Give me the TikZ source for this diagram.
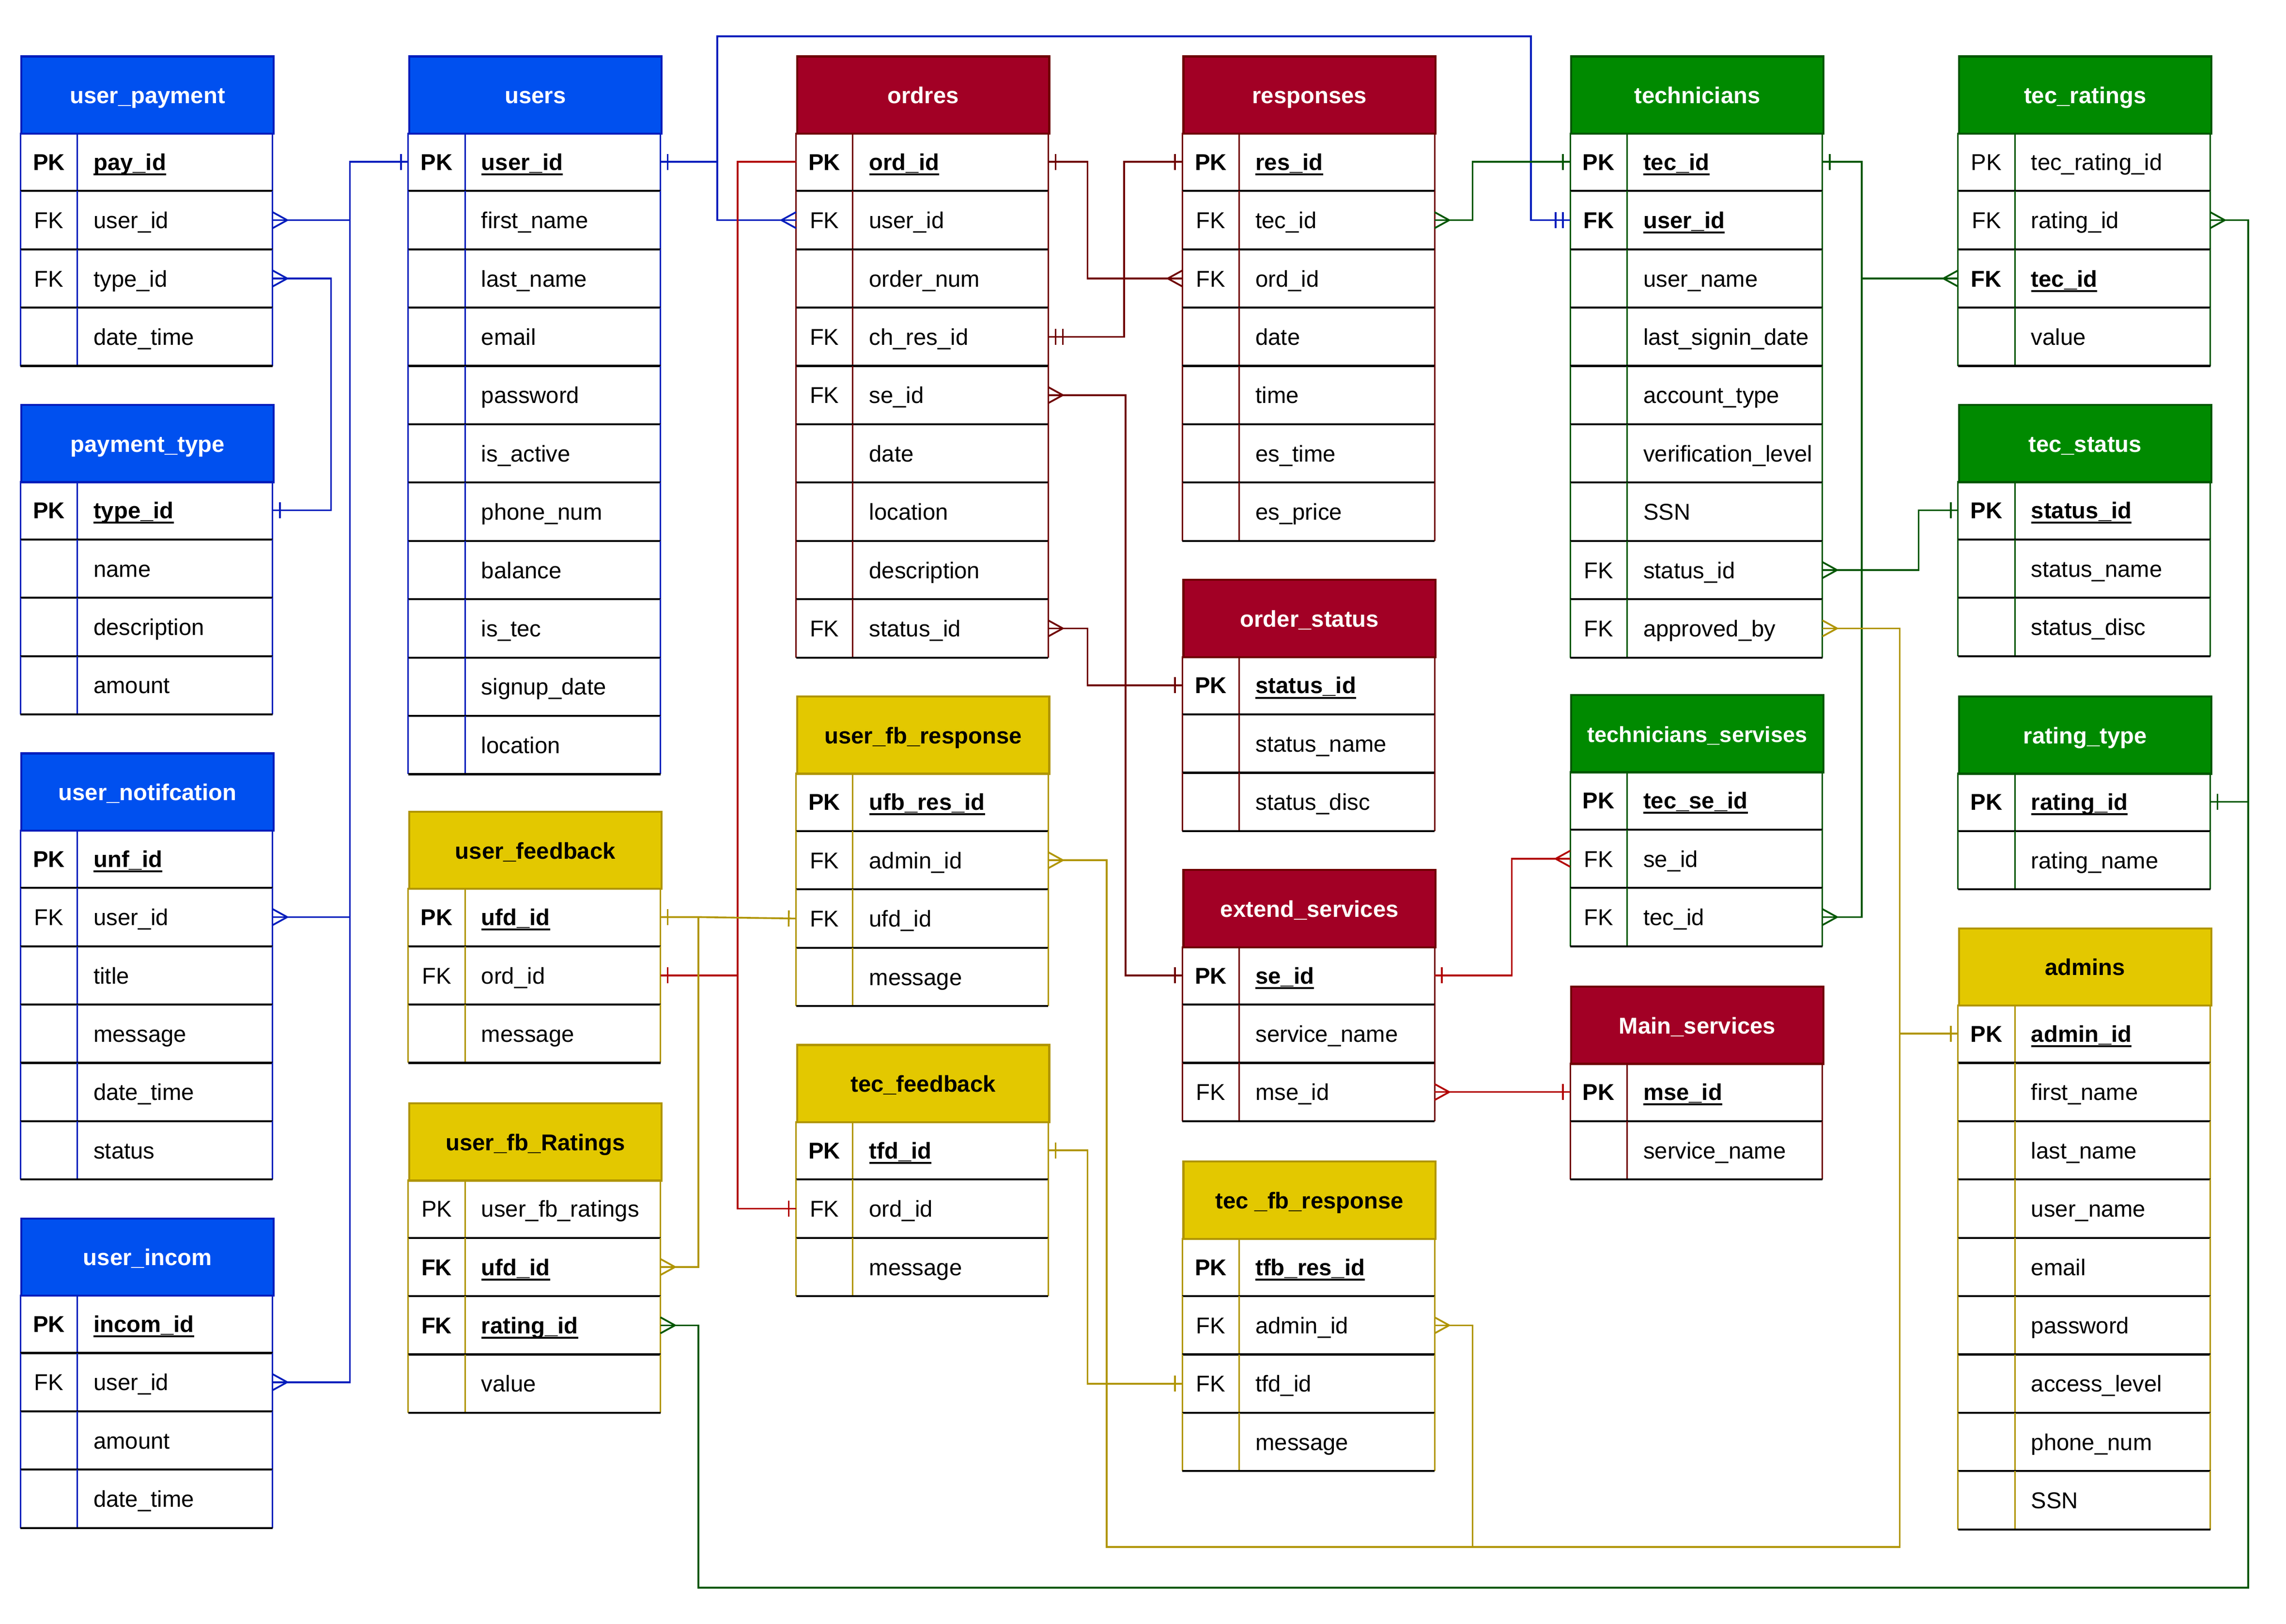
\documentclass[tikz,border=0pt]{standalone}
\usepackage{fontspec}
\setmainfont{Liberation Sans}
\usepackage{xcolor}
\usepackage{tikz}
\usetikzlibrary{arrows.meta}

\definecolor{bluefill}{HTML}{0050EF}
\definecolor{blueline}{HTML}{001DBC}
\colorlet{bluetext}{white}
\definecolor{redfill}{HTML}{A20025}
\definecolor{redline}{HTML}{6F0000}
\colorlet{redtext}{white}
\definecolor{greenfill}{HTML}{008A00}
\definecolor{greenline}{HTML}{005700}
\colorlet{greentext}{white}
\definecolor{yellowfill}{HTML}{E3C800}
\definecolor{yellowline}{HTML}{B09500}
\colorlet{yellowtext}{black}
\definecolor{brightred}{HTML}{B20000}

% crow's foot (many), one, one-and-only-one
\pgfdeclarearrow{
  name = crowfoot,
  setup code = {
    \pgfarrowssettipend{0pt}
    \pgfarrowssetlineend{0pt}
    \pgfarrowssetbackend{-10pt}
    \pgfarrowssetvisualbackend{-10pt}
  },
  drawing code = {
    \pgfsetdash{}{0pt}
    \pgfpathmoveto{\pgfqpoint{0pt}{5.5pt}}
    \pgfpathlineto{\pgfqpoint{-10pt}{0pt}}
    \pgfpathlineto{\pgfqpoint{0pt}{-5.5pt}}
    \pgfusepathqstroke
  }
}
\pgfdeclarearrow{
  name = erone,
  setup code = {
    \pgfarrowssettipend{0pt}
    \pgfarrowssetlineend{0pt}
    \pgfarrowssetbackend{-6pt}
    \pgfarrowssetvisualbackend{-6pt}
  },
  drawing code = {
    \pgfsetdash{}{0pt}
    \pgfpathmoveto{\pgfqpoint{-5pt}{5.5pt}}
    \pgfpathlineto{\pgfqpoint{-5pt}{-5.5pt}}
    \pgfusepathqstroke
  }
}
\pgfdeclarearrow{
  name = ermandone,
  setup code = {
    \pgfarrowssettipend{0pt}
    \pgfarrowssetlineend{0pt}
    \pgfarrowssetbackend{-11pt}
    \pgfarrowssetvisualbackend{-11pt}
  },
  drawing code = {
    \pgfsetdash{}{0pt}
    \pgfpathmoveto{\pgfqpoint{-5pt}{5.5pt}}
    \pgfpathlineto{\pgfqpoint{-5pt}{-5.5pt}}
    \pgfpathmoveto{\pgfqpoint{-10pt}{5.5pt}}
    \pgfpathlineto{\pgfqpoint{-10pt}{-5.5pt}}
    \pgfusepathqstroke
  }
}

\newsavebox{\erbox}
\newcommand{\erkb}[1]{\textbf{#1}}
\newcommand{\erkn}[1]{#1}
\newcommand{\erfb}[1]{\sbox{\erbox}{\textbf{#1}}\rlap{\usebox{\erbox}}\rule[-3.5pt]{\wd\erbox}{1.3pt}}
\newcommand{\erfn}[1]{#1}

% name, x, y, palette, title, rows (key/field/style)
\newcommand{\erTable}[6]{%
  \node[er head, fill=#4fill, draw=#4line, text=#4text] (#1) at (#2,#3) {#5};
  \foreach \ek/\ef/\es [count=\i] in {#6} {
    \node[er row] (#1-\i) at (#2,#3+53+40*\i-40) {};
    \node[key text] at ([xshift=19.5]#1-\i.west) {\csname erk\es\endcsname{\ek}};
    \node[field text] at ([xshift=50]#1-\i.west) {\csname erf\es\endcsname{\ef}};
    \draw[er edge, #4line] (#1-\i.north west) -- (#1-\i.south west)
      (#1-\i.north east) -- (#1-\i.south east)
      ([xshift=39]#1-\i.north west) -- ([xshift=39]#1-\i.south west);
    \draw[er rule] (#1-\i.south west) -- (#1-\i.south east);
  }%
}

\begin{document}
\begin{tikzpicture}[x=1pt, y=-1pt,
    font=\fontsize{15.7}{18}\selectfont,
    er head/.style={rectangle, anchor=north west, minimum width=173, minimum height=53, inner sep=0, line width=1.4, font=\fontsize{15.7}{18}\selectfont\bfseries, text height=11.6, text depth=0},
    er row/.style={rectangle, anchor=north west, minimum width=173, minimum height=40, inner sep=0, outer sep=0},
    key text/.style={anchor=center, inner sep=0, text height=11.4, text depth=0},
    field text/.style={anchor=west, inner sep=0, text height=11.4, text depth=0},
    er edge/.style={line width=1},
    er rule/.style={line width=1.4, black},
    link/.style={line width=1.2},
    blue link/.style={link, blueline},
    red link/.style={link, redline},
    bright link/.style={link, brightred},
    green link/.style={link, greenline},
    yellow link/.style={link, yellowline}]
  \fill[white] (0,0) rectangle (1568,1113.6);
  \useasboundingbox (0,0) rectangle (1568,1113.6);

  % column 1
  \erTable{upay}{14}{38}{blue}{user\_payment}{PK/pay\_id/b, FK/user\_id/n, FK/type\_id/n, /date\_time/n}
  \erTable{ptype}{14}{277}{blue}{payment\_type}{PK/type\_id/b, /name/n, /description/n, /amount/n}
  \erTable{unotif}{14}{516}{blue}{user\_notifcation}{PK/unf\_id/b, FK/user\_id/n, /title/n, /message/n, /date\_time/n, /status/n}
  \erTable{uincom}{14}{835}{blue}{user\_incom}{PK/incom\_id/b, FK/user\_id/n, /amount/n, /date\_time/n}

  % column 2
  \erTable{users}{280}{38}{blue}{users}{PK/user\_id/b, /first\_name/n, /last\_name/n, /email/n, /password/n, /is\_active/n, /phone\_num/n, /balance/n, /is\_tec/n, /signup\_date/n, /location/n}
  \erTable{ufeed}{280}{556}{yellow}{user\_feedback}{PK/ufd\_id/b, FK/ord\_id/n, /message/n}
  \erTable{ufbrat}{280}{756}{yellow}{user\_fb\_Ratings}{PK/user\_fb\_ratings/n, FK/ufd\_id/b, FK/rating\_id/b, /value/n}

  % column 3
  \erTable{ordres}{546}{38}{red}{ordres}{PK/ord\_id/b, FK/user\_id/n, /order\_num/n, FK/ch\_res\_id/n, FK/se\_id/n, /date/n, /location/n, /description/n, FK/status\_id/n}
  \erTable{ufbresp}{546}{477}{yellow}{user\_fb\_response}{PK/ufb\_res\_id/b, FK/admin\_id/n, FK/ufd\_id/n, /message/n}
  \erTable{tecfeed}{546}{716}{yellow}{tec\_feedback}{PK/tfd\_id/b, FK/ord\_id/n, /message/n}

  % column 4
  \erTable{resp}{811}{38}{red}{responses}{PK/res\_id/b, FK/tec\_id/n, FK/ord\_id/n, /date/n, /time/n, /es\_time/n, /es\_price/n}
  \erTable{ostat}{811}{397}{red}{order\_status}{PK/status\_id/b, /status\_name/n, /status\_disc/n}
  \erTable{extserv}{811}{596}{red}{extend\_services}{PK/se\_id/b, /service\_name/n, FK/mse\_id/n}
  \erTable{tfbresp}{811}{796}{yellow}{tec \_fb\_response}{PK/tfb\_res\_id/b, FK/admin\_id/n, FK/tfd\_id/n, /message/n}

  % column 5
  \erTable{tech}{1077}{38}{green}{technicians}{PK/tec\_id/b, FK/user\_id/b, /user\_name/n, /last\_signin\_date/n, /account\_type/n, /verification\_level/n, /SSN/n, FK/status\_id/n, FK/approved\_by/n}
  \erTable{techserv}{1077}{476}{green}{\fontsize{15}{18}\selectfont technicians\_servises}{PK/tec\_se\_id/b, FK/se\_id/n, FK/tec\_id/n}
  \erTable{mainserv}{1077}{676}{red}{Main\_services}{PK/mse\_id/b, /service\_name/n}

  % column 6
  \erTable{tecrat}{1343}{38}{green}{tec\_ratings}{PK/tec\_rating\_id/n, FK/rating\_id/n, FK/tec\_id/b, /value/n}
  \erTable{tecstat}{1343}{277}{green}{tec\_status}{PK/status\_id/b, /status\_name/n, /status\_disc/n}
  \erTable{rattype}{1343}{477}{green}{rating\_type}{PK/rating\_id/b, /rating\_name/n}
  \erTable{admins}{1343}{636}{yellow}{admins}{PK/admin\_id/b, /first\_name/n, /last\_name/n, /user\_name/n, /email/n, /password/n, /access\_level/n, /phone\_num/n, /SSN/n}

  % blue relations
  \draw[blue link, erone-crowfoot] (users-1.west) -- ++(-40,0) coordinate (usersL) |- (upay-2.east);
  \draw[blue link, -crowfoot] (usersL) |- (unotif-2.east);
  \draw[blue link, -crowfoot] (usersL) |- (uincom-2.east);
  \draw[blue link, erone-crowfoot] (ptype-1.east) -- ++(40,0) |- (upay-3.east);
  \draw[blue link, erone-ermandone] (users-1.east) -- ++(39,0) coordinate (usersR) -- ++(0,-86) -| ([xshift=-27]tech-2.west) -- (tech-2.west);
  \draw[blue link, -crowfoot] (usersR) |- (ordres-2.west);

  % red relations
  \draw[red link, erone-crowfoot] (ordres-1.east) -- ++(27,0) |- (resp-3.west);
  \draw[red link, erone-ermandone] (resp-1.west) -- ++(-40,0) |- (ordres-4.east);
  \draw[red link, crowfoot-erone] (ordres-5.east) -- ++(53,0) |- (extserv-1.west);
  \draw[red link, crowfoot-erone] (ordres-9.east) -- ++(27,0) |- (ostat-1.west);
  \draw[bright link, -erone] (ordres-1.west) -- ++(-40,0) coordinate (ordresL) |- (tecfeed-2.west);
  \draw[bright link, -erone] (ordresL) |- (ufeed-2.east);
  \draw[bright link, crowfoot-erone] (extserv-3.east) -- (mainserv-1.west);
  \draw[bright link, erone-crowfoot] (extserv-1.east) -- ++(53,0) |- (techserv-2.west);

  % green relations
  \draw[green link, erone-crowfoot] (tech-1.west) -- ++(-67,0) |- (resp-2.east);
  \draw[green link, erone-crowfoot] (tech-1.east) -- ++(27,0) coordinate (techR) |- (techserv-3.east);
  \draw[green link, -crowfoot] (techR) |- (tecrat-3.west);
  \draw[green link, erone-crowfoot] (tecstat-1.west) -- ++(-27,0) |- (tech-8.east);
  \draw[green link, erone-crowfoot] (rattype-1.east) -- ++(26,0) coordinate (ratR) |- (tecrat-2.east);
  \draw[green link, -crowfoot] (ratR) -- ++(0,539) -| ([xshift=26]ufbrat-3.east) -- (ufbrat-3.east);

  % yellow relations
  \draw[yellow link, erone-erone] (ufeed-1.east) -- ++(26,0) coordinate (ufeedR) -- (ufbresp-3.west);
  \draw[yellow link, -crowfoot] (ufeedR) |- (ufbrat-2.east);
  \draw[yellow link, erone-crowfoot] (admins-1.west) -- ++(-40,0) coordinate (adminsL) |- (tech-9.east);
  \draw[yellow link, -crowfoot] (adminsL) -- ++(0,352) coordinate (adminsB) -| ([xshift=40]ufbresp-2.east) -- (ufbresp-2.east);
  \draw[yellow link, crowfoot-] (tfbresp-2.east) -- ++(26,0) |- (adminsB);
  \draw[yellow link, erone-erone] (tecfeed-1.east) -- ++(27,0) |- (tfbresp-3.west);
\end{tikzpicture}
\end{document}
